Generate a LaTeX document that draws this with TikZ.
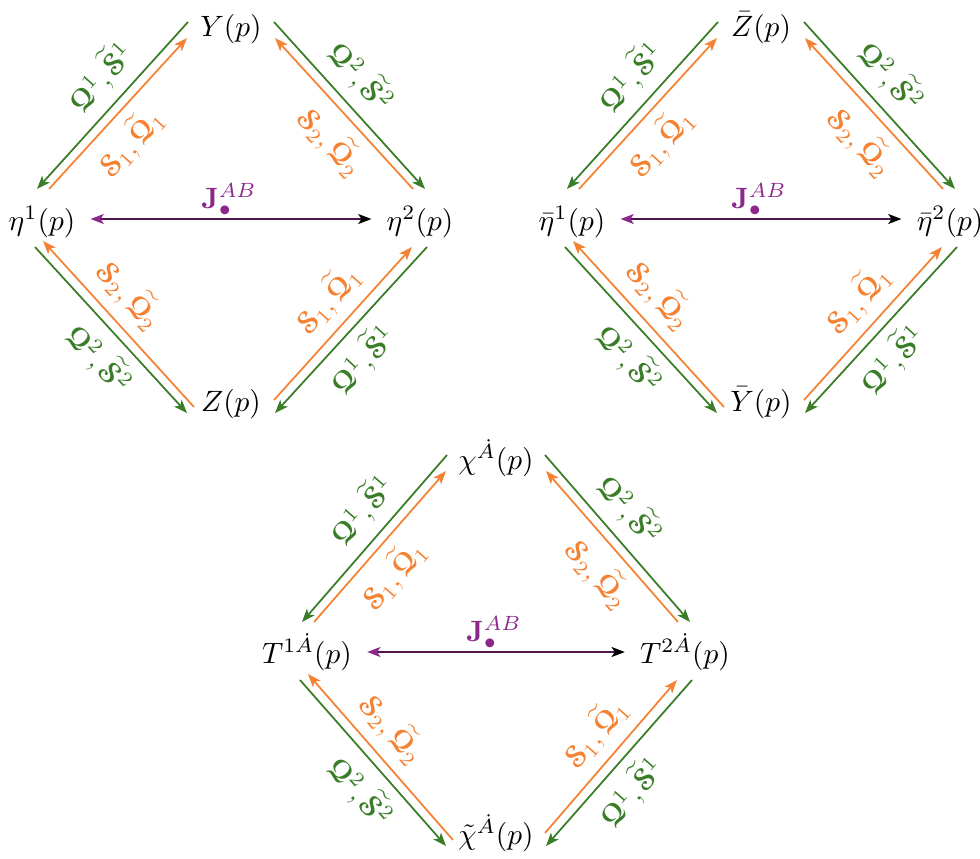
\documentclass[tikz,border=0pt]{standalone}
\usepackage{amsmath,amssymb}
\usetikzlibrary{arrows.meta,calc}
\DeclareMathAlphabet{\mathbeus}{U}{eus}{b}{n}
\definecolor{cgreen}{RGB}{58,125,40}
\definecolor{corange}{RGB}{245,130,50}
\definecolor{cpurple}{RGB}{140,40,140}
\newcommand\Qb{\mathbeus{Q}}
\newcommand\Sb{\mathbeus{S}}
\newcommand\gQS[1]{$\Qb^{#1},\widetilde{\Sb}^{#1}$}
\newcommand\oSQ[1]{$\Sb_{#1},\widetilde{\Qb}_{#1}$}
\tikzset{
  tipstyle/.style={-{Stealth[length=4.5pt,width=3.4pt,inset=1.1pt]}},
  garrow/.style={draw=cgreen, line width=0.6pt, tipstyle},
  oarrow/.style={draw=corange, line width=0.6pt, tipstyle},
  glab/.style={text=cgreen, sloped},
  olab/.style={text=corange, sloped},
  fld/.style={anchor=base, inner sep=3pt},
  jlab/.style={text=cpurple, anchor=base, inner sep=1pt},
  jline/.style={draw=cpurple!55!black, line width=0.6pt,
    {Stealth[length=4.5pt,width=3.4pt,inset=1.1pt,cpurple]}-{Stealth[length=4.5pt,width=3.4pt,inset=1.1pt,black]},
    shorten <=2pt, shorten >=2pt},
}
\newcommand\diamondedges[5]{%
 \draw[garrow] ([shift={(-43-#5,-14)}]#1.base) -- node[glab,pos=.44,above]{\gQS1} ([shift={(-5,-41)}]#2.base);
 \draw[oarrow] ([shift={(7,-41)}]#2.base) -- node[olab,pos=.44,below]{\oSQ1} ([shift={(-44-#5,2)}]#1.base);
 \draw[garrow] ([shift={(43+#5,-14)}]#1.base) -- node[glab,pos=.44,above]{\gQS2} ([shift={(5,-41)}]#3.base);
 \draw[oarrow] ([shift={(-7,-41)}]#3.base) -- node[olab,pos=.44,below]{\oSQ2} ([shift={(44+#5,2)}]#1.base);
 \draw[garrow] ([shift={(-7,17)}]#2.base) -- node[glab,pos=.56,below]{\gQS2} ([shift={(-44-#5,2)}]#4.base);
 \draw[oarrow] ([shift={(-37-#5,-4)}]#4.base) -- node[olab,pos=.56,above]{\oSQ2} ([shift={(1,11)}]#2.base);
 \draw[garrow] ([shift={(7,17)}]#3.base) -- node[glab,pos=.56,below]{\gQS1} ([shift={(44+#5,2)}]#4.base);
 \draw[oarrow] ([shift={(43+#5,-11)}]#4.base) -- node[olab,pos=.54,above]{\oSQ1} ([shift={(-8,17)}]#3.base);
}
\begin{document}
\begin{tikzpicture}[x=0.34pt,y=-0.34pt]
\useasboundingbox (0,0) rectangle (980,858);
% diamond 1
\coordinate (m1) at (231,219);
\node[fld] (Y) at (231,36) {$Y(p)$};
\node[fld] (eta1) at (42,230) {$\eta^1(p)$};
\node[fld] (eta2) at (420,230) {$\eta^2(p)$};
\node[fld] (Z) at (231,411) {$Z(p)$};
\diamondedges{Y}{eta1}{eta2}{Z}{0}
\draw[jline] (eta1.east |- m1) -- (eta2.west |- m1);
\node[jlab] (J1) at (229,208) {$\mathbf{J}^{AB}_{\bullet}$};
% diamond 2
\coordinate (m2) at (761,219);
\node[fld] (Zb) at (761,36) {$\bar Z(p)$};
\node[fld] (etab1) at (572,230) {$\bar\eta^1(p)$};
\node[fld] (etab2) at (950,230) {$\bar\eta^2(p)$};
\node[fld] (Yb) at (761,411) {$\bar Y(p)$};
\diamondedges{Zb}{etab1}{etab2}{Yb}{0}
\draw[jline] (etab1.east |- m2) -- (etab2.west |- m2);
\node[jlab] (J2) at (759,208) {$\mathbf{J}^{AB}_{\bullet}$};
% diamond 3
\coordinate (m3) at (496,652);
\node[fld] (chi) at (496,469) {$\chi^{\dot A}(p)$};
\node[fld] (T1) at (307,663) {$T^{1\dot A}(p)$};
\node[fld] (T2) at (685,663) {$T^{2\dot A}(p)$};
\node[fld] (chit) at (496,844) {$\tilde\chi^{\dot A}(p)$};
\diamondedges{chi}{T1}{T2}{chit}{6}
\draw[jline] (T1.east |- m3) -- (T2.west |- m3);
\node[jlab] (J3) at (494,641) {$\mathbf{J}^{AB}_{\bullet}$};
\end{tikzpicture}
\end{document}
